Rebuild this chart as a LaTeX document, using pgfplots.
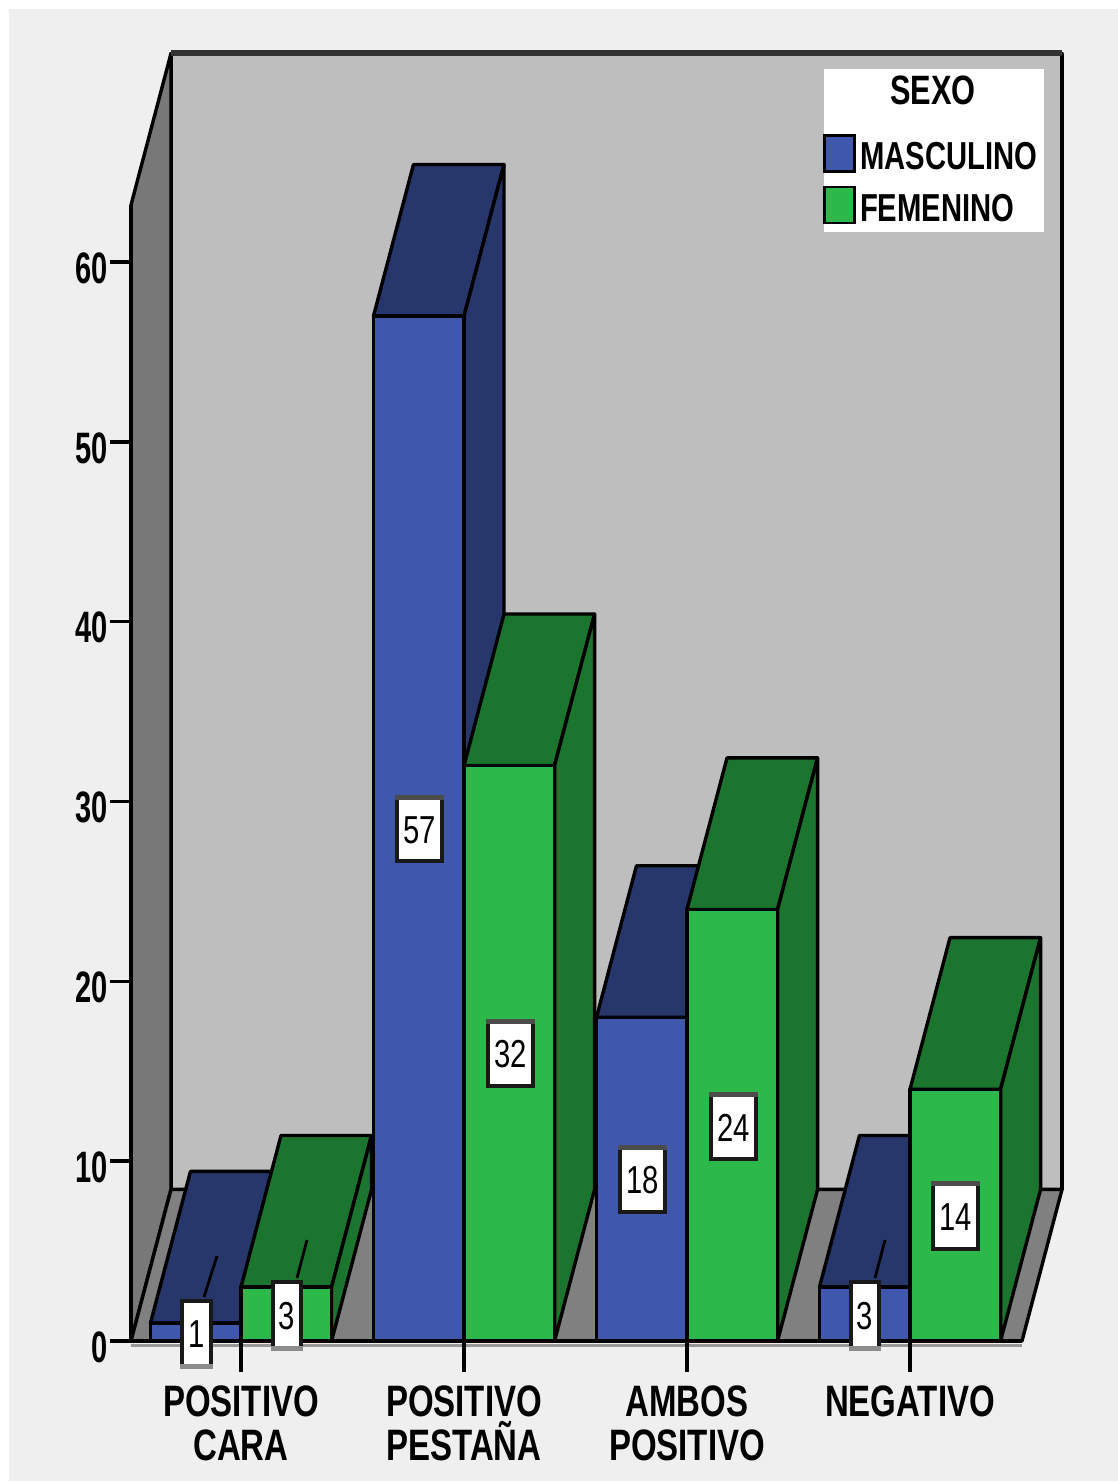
\documentclass[border=0pt]{standalone}
\usepackage{pgfplots}
\pgfplotsset{compat=1.18}
\usepackage{fontspec}
\setmainfont{Liberation Sans}[FakeStretch=0.75]
\newfontfamily\tickfont{Liberation Sans}[FakeStretch=0.66]
\definecolor{pagebg}{HTML}{EFEFEF}
\definecolor{wallback}{HTML}{BEBEBE}
\definecolor{wallside}{HTML}{787878}
\definecolor{wallfloor}{HTML}{808080}
\definecolor{masc}{HTML}{3F58AB}
\definecolor{mascdark}{HTML}{27366B}
\definecolor{fem}{HTML}{2DB84A}
\definecolor{femdark}{HTML}{1C752E}
\newcommand{\depthx}{0.1794}
\newcommand{\depthy}{8.43}
\newcommand{\barhalf}{0.203}
% One solid bar: category position, side of the group (-1 or 1), value, colours
\newcommand{\solidbar}[5]{%
  \pgfmathsetmacro\xl{#1+(#2-1)*\barhalf}%
  \pgfmathsetmacro\xr{#1+(#2+1)*\barhalf}%
  \pgfmathsetmacro\xlb{\xl+\depthx}%
  \pgfmathsetmacro\xrb{\xr+\depthx}%
  \pgfmathsetmacro\yb{#3+\depthy}%
  \addplot[forget plot,fill=#5,draw=black,line width=1.7pt,line join=round] coordinates {(\xl,#3)(\xr,#3)(\xrb,\yb)(\xlb,\yb)} --cycle;
  \addplot[forget plot,fill=#5,draw=black,line width=1.7pt,line join=round] coordinates {(\xr,0)(\xr,#3)(\xrb,\yb)(\xrb,\depthy)} --cycle;
  \addplot[forget plot,ybar,bar width=0.406,bar shift={#2*0.203},fill=#4,draw=black,line width=1.7pt,line join=round] coordinates {(#1,#3)};
}
% White value tag with a shaded band on its border, positioned in page pixels
\newcommand{\valuetag}[7]{%
  \fill[white] (axis cs:#1,#3) rectangle (axis cs:#2,#4);
  \draw[black!90,line width=1.7pt] (axis cs:#1,#3) rectangle (axis cs:#2,#4);
  \fill[#7] (axis cs:#1-2,#5) rectangle (axis cs:#2+2,#5+5);
  \node[font=\fontsize{19.5}{20}\selectfont,inner sep=0pt] at (axis cs:{(#1+#2)/2},{(#3+#4)/2+1}) {#6};
}
\begin{document}
\begin{tikzpicture}
\fill[white] (0,0) rectangle (559pt,741pt);
\fill[pagebg] (4.5pt,0.5pt) rectangle (559pt,736.5pt);
\begin{axis}[
  at={(65.5pt,70.5pt)},anchor=south west,
  scale only axis,width=445.5pt,height=568pt,
  xmin=-0.4933,xmax=3.5022,ymin=0,ymax=63.18,
  clip=false,axis on top,
  axis lines*=left,axis line style={-,line width=1.7pt,black},
  tick align=outside,
  xtick={0,1,2,3},
  xticklabels={{POSITIVO\\CARA},{POSITIVO\\PESTAÑA},{AMBOS\\POSITIVO},{NEGATIVO}},
  xticklabel style={align=center,font=\fontsize{22}{22}\selectfont\bfseries,inner sep=0pt,yshift=-11.75pt},
  ytick={0,10,20,30,40,50,60},
  yticklabel style={font=\fontsize{22}{22}\tickfont\bfseries,inner sep=0pt,yshift=-3pt,xshift=-1pt},
  /pgf/number format/assume math mode=true,
  major tick length=10.5pt,
  ytick style={line width=1.7pt,black},
  xtick style={line width=1.7pt,black,/pgfplots/major tick length=15.5pt},
  legend style={at={(0.7767,1.1179)},anchor=north west,draw=none,fill=none,inner sep=0pt,
    font=\fontsize{19.5}{20}\selectfont\bfseries,cells={anchor=west},
    /tikz/every even column/.style={column sep=3pt},row sep=6.5pt},
  legend image code/.code={\draw[#1,line width=1.3pt] (0pt,-9pt) rectangle (15pt,9pt);},
]
% Room: back wall, left wall, floor
\addplot[forget plot,fill=wallback,draw=black,line width=1.7pt,line join=round] coordinates {(-0.3139,8.43)(3.6816,8.43)(3.6816,71.61)(-0.3139,71.61)} --cycle;
\addplot[forget plot,fill=wallside,draw=black,line width=1.7pt,line join=round] coordinates {(-0.4933,0)(-0.4933,63.18)(-0.3139,71.61)(-0.3139,8.43)} --cycle;
\addplot[forget plot,fill=wallfloor,draw=black,line width=1.7pt,line join=round] coordinates {(-0.4933,0)(-0.3139,8.43)(3.6816,8.43)(3.5022,0)} --cycle;
\draw[black!80,line width=3pt] (axis cs:-0.3139,71.61) -- (axis cs:3.6816,71.61);
% Legend panel
\fill[white] (axis cs:2.6143,70.75) rectangle (axis cs:3.6009,61.68);
% Shadow under the base line
\draw[gray!80,line width=1.6pt] (axis cs:-0.4933,-0.25) -- (axis cs:3.5022,-0.25);
% Bars, left to right, each with its group's two series
\solidbar{0}{-1}{1}{masc}{mascdark}
\solidbar{0}{1}{3}{fem}{femdark}
\solidbar{1}{-1}{57}{masc}{mascdark}
\solidbar{1}{1}{32}{fem}{femdark}
\solidbar{2}{-1}{18}{masc}{mascdark}
\solidbar{2}{1}{24}{fem}{femdark}
\solidbar{3}{-1}{3}{masc}{mascdark}
\solidbar{3}{1}{14}{fem}{femdark}
\addlegendimage{empty legend}
\addlegendentry{\hspace*{15pt}\raisebox{5pt}{\fontsize{20.5}{21}\selectfont SEXO}}
\addlegendimage{fill=masc,draw=black}
\addlegendentry{\raisebox{-4.5pt}{MASCULINO}}
\addlegendimage{fill=fem,draw=black}
\addlegendentry{\raisebox{-4.5pt}{FEMENINO}}
\end{axis}
% Value tags sit above the base line and are set in page pixels
\begin{axis}[
  at={(0pt,0pt)},anchor=south west,
  scale only axis,width=559pt,height=741pt,
  xmin=0,xmax=1118,ymin=0,ymax=1482,y dir=reverse,
  axis lines=none,clip=false,
]
\draw[black,line width=1.4pt] (axis cs:204,1297) -- (axis cs:217,1256);
\draw[black,line width=1.4pt] (axis cs:297,1278) -- (axis cs:307,1240);
\draw[black,line width=1.4pt] (axis cs:875,1278) -- (axis cs:885,1240);
\valuetag{182}{211}{1301}{1366}{1364}{1}{gray!90}
\valuetag{273}{301}{1282}{1348}{1346}{3}{gray!90}
\valuetag{851}{879}{1282}{1348}{1346}{3}{gray!90}
\valuetag{397}{442}{797}{861}{795}{57}{black!70}
\valuetag{488}{533}{1021}{1086}{1019}{32}{black!70}
\valuetag{620}{665}{1147}{1212}{1145}{18}{black!70}
\valuetag{711}{756}{1094}{1159}{1092}{24}{black!70}
\valuetag{933}{978}{1183}{1249}{1181}{14}{black!70}
\end{axis}
\end{tikzpicture}
\end{document}
